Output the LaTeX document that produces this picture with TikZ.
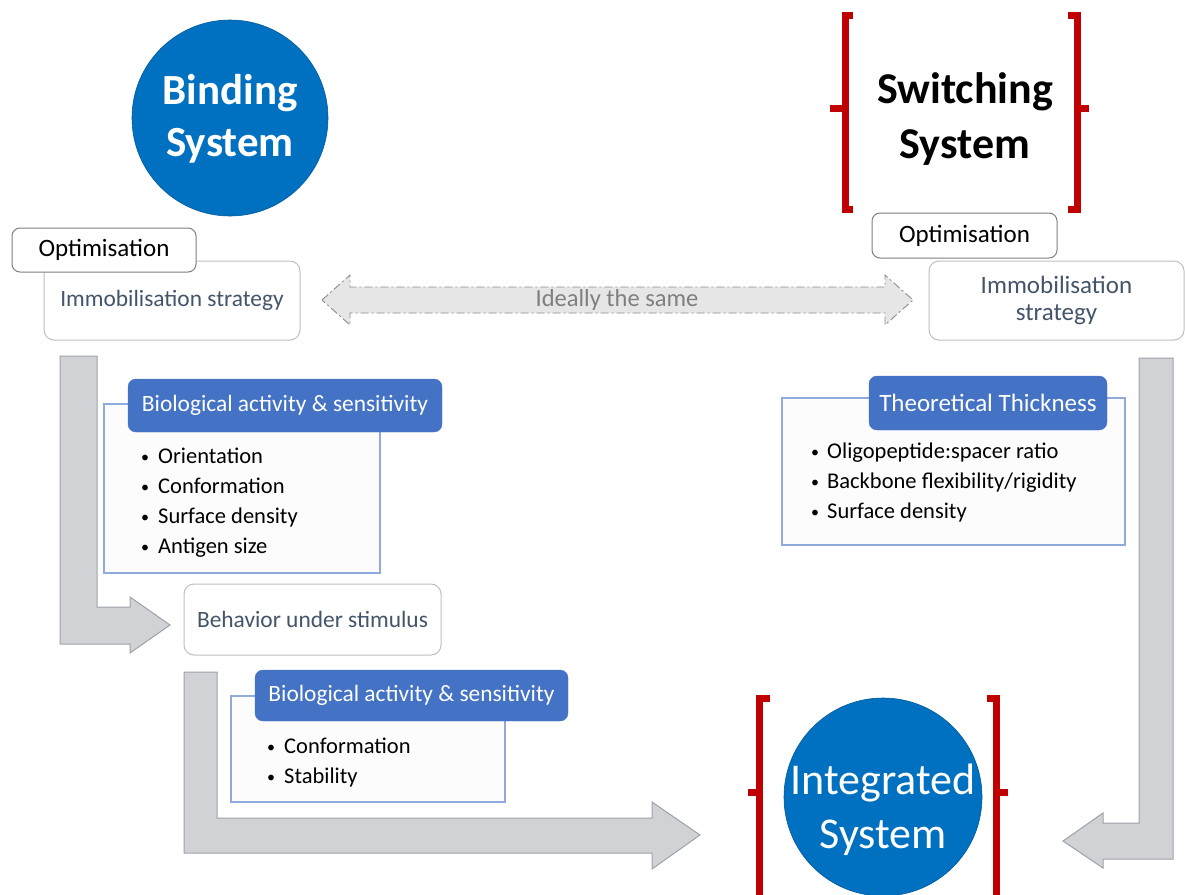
\documentclass[tikz,border=0pt]{standalone}
\usepackage{fontspec}
\setmainfont{Carlito}
\definecolor{sysblue}{HTML}{0070C0}
\definecolor{brred}{HTML}{C00000}
\definecolor{hdrblue}{HTML}{4472C4}
\definecolor{lstblue}{HTML}{8FAADC}
\definecolor{lstfill}{HTML}{FCFCFC}
\definecolor{boxgray}{HTML}{BFBFBF}
\definecolor{optgray}{HTML}{7F7F7F}
\definecolor{slate}{HTML}{44546A}
\definecolor{arrfill}{HTML}{D0D2D6}
\definecolor{arrdraw}{HTML}{9DA2AA}
\definecolor{dblfill}{HTML}{E7E6E6}
\definecolor{dbldraw}{HTML}{8C8C8C}
\definecolor{dbltext}{HTML}{7F7F7F}
\begin{document}
\begin{tikzpicture}[x=1pt,y=-1pt,
  fs/.style={font=\fontsize{22.5}{27}\selectfont},
  fm/.style={font=\fontsize{23.4}{27}\selectfont},
  fl/.style={font=\fontsize{25}{27}\selectfont},
  softbox/.style={draw=boxgray, line width=1pt, fill=white, rounded corners=10pt,
    text=slate, fm, align=center},
  optbox/.style={draw=optgray, line width=1pt, fill=white, rounded corners=8pt, fl},
  header/.style={fill=hdrblue, draw=hdrblue, rounded corners=8pt, text=white, fm},
  listbox/.style={draw=lstblue, line width=1.3pt, fill=lstfill},
  item/.style={anchor=base west, inner sep=0pt, fs},
  bul/.style={anchor=base, inner sep=0pt, font=\fontsize{16}{18}\selectfont},
  blockarrow/.style={fill=arrfill, draw=arrdraw, line width=1pt},
  brk/.style={draw=brred, line width=7pt},
  syscircle/.style={circle, fill=sysblue, draw=sysblue!80!black, line width=0.6pt, inner sep=0pt},
]
\useasboundingbox (0,0) rectangle (1185,894);
\clip (0,0) rectangle (1185,894);

% ---------- block arrows ----------
\draw[blockarrow] (60,356) -- (97,356) -- (97,607) -- (130,607) -- (130,597)
  -- (170,625) -- (130,653) -- (130,644) -- (60,644) -- cycle;
\draw[blockarrow] (184,672) -- (217,672) -- (217,818) -- (652,818) -- (652,802)
  -- (700,835) -- (652,869) -- (652,853) -- (184,853) -- cycle;
\draw[blockarrow] (1139,358) -- (1173,358) -- (1173,859) -- (1103,859) -- (1103,868)
  -- (1063,841) -- (1103,813) -- (1103,823) -- (1139,823) -- cycle;

% ---------- double arrow between the two strategies ----------
\draw[fill=dblfill, draw=dbldraw, line width=0.9pt,
      dash pattern=on 8pt off 3pt on 2pt off 3pt]
  (322,300) -- (350,275) -- (350,287) -- (885,287) -- (885,275) -- (913,300)
  -- (885,325) -- (885,313) -- (350,313) -- (350,325) -- cycle;
\node[text=dbltext, font=\fontsize{24.5}{28}\selectfont] (same) at (617,300) {Ideally the same};

% ---------- binding system ----------
\node[syscircle, minimum size=196pt] (bind) at (230,118) {};
\node[text=white, align=center, font=\fontsize{43}{52}\bfseries\selectfont] (bindtxt)
  at (230,119) {Binding\\System};

\node[softbox, minimum width=256pt, minimum height=79pt] (immL) at (172,300.5)
  {Immobilisation strategy};
\node[optbox, minimum width=184pt, minimum height=44pt] (optL) at (104,250) {Optimisation};

% first list
\node[listbox, minimum width=276pt, minimum height=169pt] (bio1) at (242,488.5) {};
\node[header, minimum width=314pt, minimum height=53pt] (bio1h) at (285,405.5)
  {Biological activity \& sensitivity};
\foreach \t [count=\i] in {Orientation, Conformation, Surface density, Antigen size}{
  \node[bul] (b1d\i) at (145,432+30*\i) {\textbullet};
  \node[item] (b1t\i) at (158,433+30*\i) {\t};
}

\node[softbox, minimum width=257pt, minimum height=71pt] (behav) at (312.5,619.5)
  {Behavior under stimulus};

% second list
\node[listbox, minimum width=274pt, minimum height=106pt] (bio2) at (368,749) {};
\node[header, minimum width=313pt, minimum height=51pt] (bio2h) at (411.5,695.5)
  {Biological activity \& sensitivity};
\foreach \t [count=\i] in {Conformation, Stability}{
  \node[bul] (b2d\i) at (271,722+30*\i) {\textbullet};
  \node[item] (b2t\i) at (284,723+30*\i) {\t};
}

% ---------- switching system ----------
\node[align=center, font=\fontsize{44}{55}\bfseries\selectfont] (swtxt)
  at (965,119.5) {Switching\\System};
\draw[brk] (853,15.5) -- (845.5,15.5) -- (845.5,209.5) -- (853,209.5);
\draw[brk] (845.5,108.5) -- (830,108.5);
\draw[brk] (1068,15.5) -- (1077.5,15.5) -- (1077.5,209.5) -- (1068,209.5);
\draw[brk] (1077.5,108.5) -- (1089,108.5);

\node[optbox, minimum width=185pt, minimum height=45pt] (optR) at (964.5,235.5) {Optimisation};
\node[softbox, minimum width=255pt, minimum height=79pt, align=center,
      font=\fontsize{25}{27}\selectfont] (immR) at (1056.5,300.5)
  {Immobilisation\\strategy};

\node[listbox, minimum width=343pt, minimum height=147pt] (theo) at (953.5,471.5) {};
\node[header, minimum width=238pt, minimum height=54pt, fl] (theoh) at (988,403)
  {Theoretical Thickness};
\foreach \t [count=\i] in {Oligopeptide:spacer ratio, Backbone flexibility/rigidity, Surface density}{
  \node[bul] (tdd\i) at (815,427+30*\i) {\textbullet};
  \node[item] (tdt\i) at (827,428+30*\i) {\t};
}

% ---------- integrated system ----------
\node[syscircle, minimum size=198pt] (integ) at (883,797) {};
\node[text=white, align=center, font=\fontsize{44}{54}\selectfont] (integtxt)
  at (883,810) {Integrated\\System};
\draw[brk] (770,698.5) -- (759,698.5) -- (759,900);
\draw[brk] (759,792.5) -- (748,792.5);
\draw[brk] (987,698.5) -- (996.5,698.5) -- (996.5,900);
\draw[brk] (996.5,792.5) -- (1008,792.5);
\end{tikzpicture}
\end{document}
